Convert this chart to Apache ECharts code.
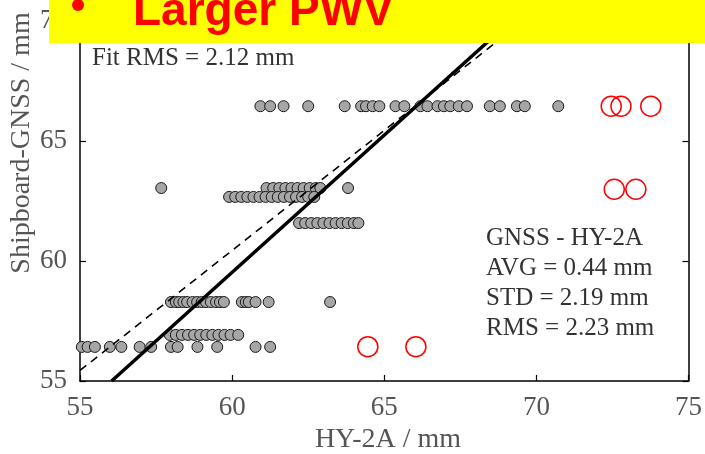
<!DOCTYPE html>
<html><head><meta charset="utf-8">
<script src="https://cdn.jsdelivr.net/npm/echarts@6/dist/echarts.min.js"></script>
<style>html,body{margin:0;padding:0;background:#fff}#c{width:705px;height:454px}</style>
</head><body><div id="c"></div>
<script>
// ---- data ----
const xTicks = [55, 60, 65, 70, 75];
const yTicks = [55, 60, 65, 70];

// gray points: rows of equal Shipboard-GNSS value
const rowY = [66.45, 63.04, 62.67, 61.58, 58.29, 56.92, 56.42];
const row1X = [60.93, 61.25, 61.69, 62.5, 63.7, 64.24, 64.4, 64.62, 64.84, 65.37, 65.66, 66.19, 66.42, 66.75, 66.96, 67.17, 67.45, 67.72, 68.47, 68.8, 69.36, 69.62, 70.72];
const row2X = [57.67, 61.13, 61.35, 61.55, 61.75, 61.95, 62.15, 62.35, 62.55, 62.75, 62.9, 63.81];
const row3X = [59.9, 60.1, 60.3, 60.5, 60.7, 60.9, 61.1, 61.3, 61.5, 61.7, 61.9, 62.1, 62.3, 62.5, 62.7];
const row4X = [62.2, 62.4, 62.6, 62.8, 63.0, 63.2, 63.4, 63.6, 63.8, 64.0, 64.15];
const row5X = [57.99, 58.15, 58.26, 58.4, 58.52, 58.7, 58.85, 59.0, 59.14, 59.3, 59.47, 59.6, 59.73, 60.32, 60.45, 60.55, 60.77, 61.2, 63.22];
const row6X = [57.95, 58.15, 58.35, 58.55, 58.75, 58.95, 59.15, 59.35, 59.55, 59.75, 59.95, 60.2];
const row7X = [55.06, 55.25, 55.49, 55.98, 56.36, 56.96, 57.34, 57.99, 58.21, 58.86, 59.51, 60.77, 61.25];
const rowsX = [row1X, row2X, row3X, row4X, row5X, row6X, row7X];

// outliers (red circles)
const outlierX = [72.46, 72.78, 73.76, 72.56, 73.27, 64.46, 66.04];
const outlierY = [66.45, 66.45, 66.45, 62.99, 62.99, 56.43, 56.43];

// fit line (solid) and mean-offset line (dashed), endpoints
const fitLine = [[56.04, 55], [69.16, 70]];
const meanLine = [[55, 55.44], [69.56, 70]];

const bannerText = 'Larger PWV';
const fitText = 'Fit RMS = 2.12 mm';
const statLines = ['GNSS - HY-2A', 'AVG = 0.44 mm', 'STD = 2.19 mm', 'RMS = 2.23 mm'];
const xName = 'HY-2A / mm';
const yName = 'Shipboard-GNSS / mm';

// ---- build ----
const grayData = [];
rowsX.forEach((xs, i) => xs.forEach(x => grayData.push([x, rowY[i]])));
const redData = outlierX.map((x, i) => [x, outlierY[i]]);

const serif = '"Liberation Serif", "DejaVu Serif", serif';
const labelColor = '#555';
const textColor = '#333';

const axisCommon = {
  axisLine: { show: true, onZero: false, lineStyle: { color: '#000', width: 1.5 } },
  axisTick: { show: true, inside: true, length: 6, lineStyle: { color: '#000', width: 1.2 } },
  splitLine: { show: false }
};

const chart = echarts.init(document.getElementById('c'));
chart.setOption({
  animation: false,
  backgroundColor: '#fff',
  grid: { left: 80, right: 12, top: 21, bottom: 73 },
  xAxis: [
    Object.assign({ type: 'value', min: xTicks[0], max: xTicks[xTicks.length - 1], interval: 5,
      axisLabel: { fontFamily: serif, fontSize: 27, color: labelColor, margin: 13,
        formatter: v => xTicks.includes(v) ? String(v) : '' } }, axisCommon),
    Object.assign({ type: 'value', position: 'top', min: 55, max: 75, interval: 5,
      axisLabel: { show: false } }, axisCommon)
  ],
  yAxis: [
    Object.assign({ type: 'value', min: yTicks[0], max: yTicks[yTicks.length - 1], interval: 5,
      axisLabel: { fontFamily: serif, fontSize: 27, color: labelColor, margin: 13,
        formatter: v => yTicks.includes(v) ? String(v) : '' } }, axisCommon),
    Object.assign({ type: 'value', position: 'right', min: 55, max: 70, interval: 5,
      axisLabel: { show: false } }, axisCommon)
  ],
  series: [
    { type: 'scatter', data: grayData, symbol: 'circle', symbolSize: 11,
      itemStyle: { color: '#a6a6a6', borderColor: '#1a1a1a', borderWidth: 1, opacity: 1 }, z: 2 },
    { type: 'scatter', data: redData, symbol: 'circle', symbolSize: 20,
      itemStyle: { color: 'rgba(255,255,255,0)', borderColor: '#ff0000', borderWidth: 1.5, opacity: 1 }, z: 2 },
    { type: 'line', data: meanLine, symbol: 'none', clip: true,
      lineStyle: { color: '#000', width: 1.6, type: [8, 6] }, z: 3 },
    { type: 'line', data: fitLine, symbol: 'none', clip: true,
      lineStyle: { color: '#000', width: 3.5 }, z: 4 }
  ],
  graphic: [
    { type: 'text', x: 92, y: 58, z: 50,
      style: { text: fitText, font: '25px ' + serif, fill: textColor, verticalAlign: 'middle' } },
    ...statLines.map((t, i) => ({ type: 'text', x: 486, y: 238 + i * 30, z: 50,
      style: { text: t, font: '25px ' + serif, fill: textColor, verticalAlign: 'middle' } })),
    { type: 'text', x: 388, y: 440, z: 50,
      style: { text: xName, font: '28px ' + serif, fill: labelColor, align: 'center', verticalAlign: 'middle' } },
    { type: 'text', x: 22, y: 143, rotation: Math.PI / 2, z: 50,
      style: { text: yName, font: '28px ' + serif, fill: labelColor, align: 'center', verticalAlign: 'middle' } },
    { type: 'rect', z: 100, shape: { x: 49, y: 0, width: 656, height: 43 }, style: { fill: '#ffff00' } },
    { type: 'circle', z: 101, shape: { cx: 78, cy: 5, r: 6 }, style: { fill: '#ff0000' } },
    { type: 'text', x: 133, y: 12, z: 101,
      style: { text: bannerText, font: 'bold 46px "Liberation Sans", Arial, sans-serif', fill: '#ff0000', verticalAlign: 'middle' } }
  ]
});
</script></body></html>
